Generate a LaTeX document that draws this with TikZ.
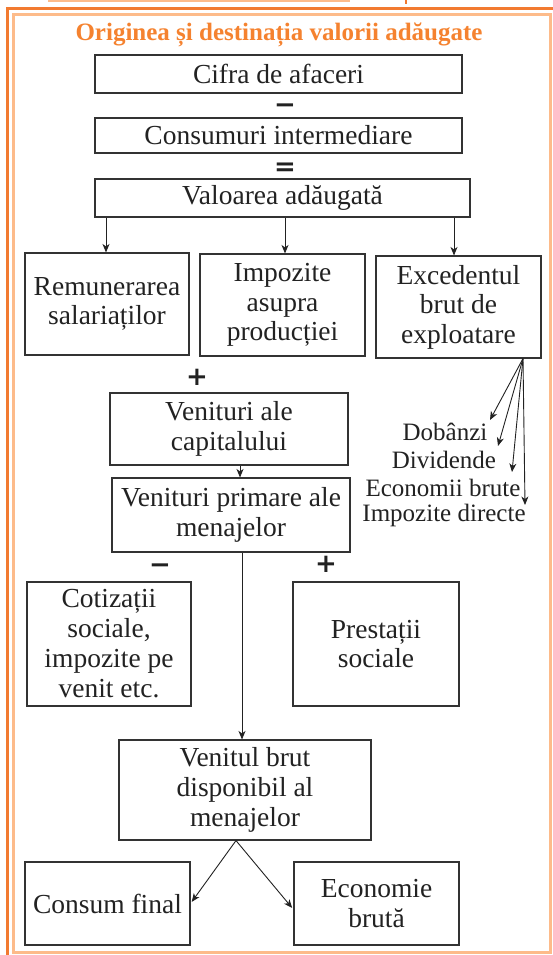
\documentclass[tikz,border=0pt]{standalone}
\usepackage{fontspec}
\setmainfont{Liberation Serif}
\newfontfamily\signfont{DejaVu Sans}
\usetikzlibrary{arrows.meta}
\definecolor{darkor}{HTML}{F27A30}
\definecolor{lightor}{HTML}{FDBB8A}
\definecolor{titleor}{HTML}{F5822F}
\definecolor{boxline}{HTML}{333333}
\definecolor{ink}{HTML}{222222}
\begin{document}
\begin{tikzpicture}[x=1pt,y=-1pt,
  box/.style={draw=boxline, line width=1.1pt, align=center, inner sep=0pt, text=ink,
    font=\fontsize{27.5}{29.5}\selectfont},
  lbl/.style={font=\fontsize{25}{28}\selectfont, inner sep=0pt, text=ink},
  sign/.style={font=\signfont\bfseries\fontsize{26}{26}\selectfont, inner sep=0pt, text=ink, anchor=base},
  arr/.style={draw=ink, line width=0.9pt, -{Stealth[length=8.5pt,width=7pt,inset=2.5pt]}},
  ln/.style={draw=ink, line width=0.9pt}]
\useasboundingbox (0,0) rectangle (553,955);
\fill[white] (0,0) rectangle (553,955);
% decorative borders
\draw[lightor, line width=1.5pt] (48,0.8) -- (350,0.8);
\draw[darkor, line width=2pt] (406,0) -- (406,4);
\draw[darkor, line width=3.5pt] (7.5,955) -- (7.5,8.5) -- (553,8.5);
\draw[lightor, line width=3pt] (13.5,14.5) rectangle (550.5,952.5);
% title
\node[font=\fontsize{25}{25}\selectfont\bfseries, text=titleor, inner sep=0pt] (title) at (279,35) {Originea și destinația valorii adăugate};
% boxes
\node[box, minimum width=367pt, minimum height=38pt] (cifra) at (278.5,74) {Cifra de afaceri};
\node[box, minimum width=367pt, minimum height=35pt] (cons) at (278.5,135.5) {Consumuri intermediare};
\node[box, minimum width=375pt, minimum height=38pt] (val) at (282.5,198) {Valoarea adăugată};
\node[box, minimum width=164pt, minimum height=102pt] (rem) at (107,304) {Remunerarea\\salariaților};
\node[box, minimum width=165pt, minimum height=102pt] (imp) at (282.5,305) {Impozite\\asupra\\producției};
\node[box, minimum width=165pt, minimum height=102pt] (exc) at (458.5,307) {Excedentul\\brut de\\exploatare};
\node[box, minimum width=238pt, minimum height=72pt] (cap) at (229,429) {Venituri ale\\capitalului};
\node[box, minimum width=238pt, minimum height=74pt] (prim) at (231,515) {Venituri primare ale\\menajelor};
\node[box, minimum width=164pt, minimum height=124pt, font=\fontsize{27.5}{30}\selectfont] (cot) at (109,644) {Cotizații\\sociale,\\impozite pe\\venit etc.};
\node[box, minimum width=166pt, minimum height=124pt] (pre) at (376,644) {Prestații\\sociale};
\node[box, minimum width=252pt, minimum height=100pt, font=\fontsize{27.5}{30}\selectfont] (vbd) at (245,790) {Venitul brut\\disponibil al\\menajelor};
\node[box, minimum width=165pt, minimum height=83pt] (cf) at (107.5,903.5) {Consum final};
\node[box, minimum width=165pt, minimum height=83pt] (eb) at (376.5,903.5) {Economie\\brută};
% signs
\node[sign] (minus1) at (285,113.5) {−};
\node[sign] (eq) at (285,175.5) {=};
\node[sign] (plus1) at (197,385.5) {+};
\node[sign] (minus2) at (160,573.5) {−};
\node[sign] (plus2) at (326,572.5) {+};
% labels
\node[lbl] (dob) at (445,432) {Dobânzi};
\node[lbl] (div) at (444,460) {Dividende};
\node[lbl] (eco) at (443,488) {Economii brute};
\node[lbl] (impd) at (444,515) {Impozite directe};
% helper coordinates
\coordinate (a1) at (106,0);
\coordinate (a2) at (285,0);
\coordinate (a3) at (454,0);
\coordinate (a4) at (240,0);
\coordinate (a5) at (242,0);
\coordinate (f0) at (236,0);
\coordinate (e0) at (523,0);
\coordinate (t1) at (490,420);
\coordinate (t2) at (498,446);
\coordinate (t3) at (512,472);
\coordinate (t4) at (525,505);
% connectors
\draw[arr] (val.south -| a1) -- (rem.north -| a1);
\draw[arr] (val.south -| a2) -- (imp.north -| a2);
\draw[arr] (val.south -| a3) -- (exc.north -| a3);
\draw[arr] (cap.south -| a4) -- (prim.north -| a4);
\draw[arr] (prim.south -| a5) -- (vbd.north -| a5);
\draw[arr, shorten >=2pt] (vbd.south -| f0) -- (cf.east);
\draw[arr, shorten >=2pt] (vbd.south -| f0) -- ([yshift=-6pt]eb.west);
\draw[arr] (exc.south -| e0) -- (t1);
\draw[arr] (exc.south -| e0) -- (t2);
\draw[arr] (exc.south -| e0) -- (t3);
\draw[arr] (exc.south -| e0) -- (t4);
\end{tikzpicture}
\end{document}
